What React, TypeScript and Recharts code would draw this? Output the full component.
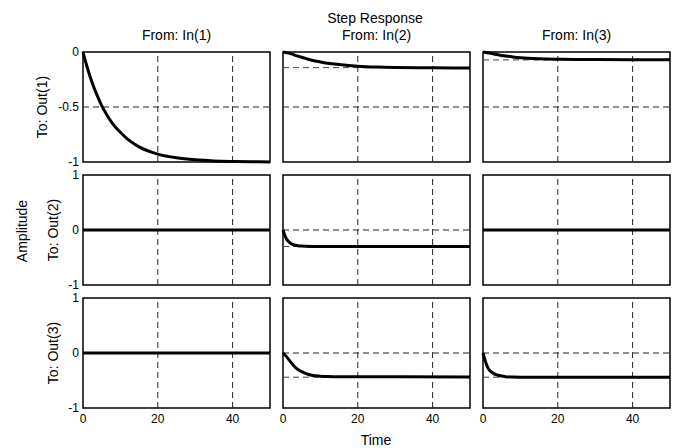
import { LineChart, Line, XAxis, YAxis, ReferenceLine, ReferenceArea } from 'recharts'

// time ticks / y ticks
const timeTicks = [0, 20, 40]
const topRowTicks = [-1, -0.5, 0]
const rowTicks = [-1, 0, 1]

const inputs = ['In(1)', 'In(2)', 'In(3)']
const outputs = ['Out(1)', 'Out(2)', 'Out(3)']

// step responses (row = output, col = input)
const t11 = [0, 1, 2, 3, 4, 5, 6, 8, 10, 12, 15, 20, 25, 30, 35, 40, 45, 50]
const y11 = [0, -0.125, -0.234, -0.33, -0.413, -0.487, -0.55, -0.656, -0.73, -0.795, -0.862, -0.928, -0.962, -0.98, -0.99, -0.995, -0.998, -0.999]

const t12 = [0, 2, 4, 6, 8, 10, 12, 15, 20, 25, 30, 40, 50]
const y12 = [0, -0.015, -0.038, -0.058, -0.077, -0.09, -0.102, -0.114, -0.129, -0.137, -0.141, -0.144, -0.145]

const t13 = [0, 2, 4, 6, 8, 10, 12, 15, 20, 25, 30, 50]
const y13 = [0, -0.012, -0.025, -0.036, -0.045, -0.052, -0.057, -0.062, -0.066, -0.068, -0.069, -0.07]

const t21 = [0, 50]
const y21 = [0, 0]

const t22 = [0, 0.5, 1, 1.5, 2, 3, 4, 5, 6, 8, 50]
const y22 = [0, -0.1, -0.17, -0.21, -0.24, -0.27, -0.285, -0.293, -0.297, -0.3, -0.3]

const t23 = [0, 50]
const y23 = [0, 0]

const t31 = [0, 50]
const y31 = [0, 0]

const t32 = [0, 1, 2, 3, 4, 5, 6, 8, 10, 12, 15, 50]
const y32 = [0, -0.07, -0.16, -0.24, -0.3, -0.34, -0.37, -0.41, -0.422, -0.428, -0.432, -0.435]

const t33 = [0, 0.5, 1, 1.5, 2, 3, 4, 5, 6, 8, 10, 50]
const y33 = [0, -0.12, -0.22, -0.29, -0.33, -0.38, -0.405, -0.42, -0.43, -0.437, -0.44, -0.44]

// steady-state levels (dashed lines); null = none drawn
const steady = [
  [null, -0.142, -0.072],
  [null, -0.3, null],
  [null, -0.44, -0.44],
]

const curves = [
  [[t11, y11], [t12, y12], [t13, y13]],
  [[t21, y21], [t22, y22], [t23, y23]],
  [[t31, y31], [t32, y32], [t33, y33]],
]

const COL_X = [83, 283, 483]
const ROW_Y = [52, 175, 298]
const PW = 187
const PH = 110
const FONT = '"Liberation Sans", Arial, sans-serif'

function Panel({ row, col }: { row: number; col: number }) {
  const [t, y] = curves[row][col]
  const data = t.map((v, i) => ({ t: v, y: y[i] }))
  const showY = col === 0
  const showX = row === 2
  const padL = showY ? 44 : 4
  const padB = showX ? 26 : 10
  const domain = row === 0 ? [-1, 0] : [-1, 1]
  const ticks = row === 0 ? topRowTicks : rowTicks
  const mid = row === 0 ? -0.5 : 0
  const ss = steady[row][col]
  const tick = { fontSize: 12, fill: '#000', fontFamily: FONT }

  return (
    <div style={{ position: 'absolute', left: COL_X[col] - padL, top: ROW_Y[row] - 8 }}>
      <LineChart
        width={padL + PW + 4}
        height={8 + PH + padB}
        data={data}
        margin={{ top: 8, right: 4, bottom: showX ? 0 : 10, left: showY ? 0 : 4 }}
      >
        <XAxis
          type="number"
          dataKey="t"
          domain={[0, 50]}
          ticks={timeTicks}
          interval={0}
          hide={!showX}
          height={26}
          axisLine={false}
          tickLine={false}
          tickSize={4}
          tickMargin={2}
          tick={tick}
        />
        <YAxis
          type="number"
          domain={domain}
          ticks={ticks}
          interval={0}
          hide={!showY}
          width={44}
          axisLine={false}
          tickLine={false}
          tickSize={2}
          tickMargin={2}
          tick={tick}
        />
        <ReferenceLine x={20} stroke="#222" strokeDasharray="6 4" />
        <ReferenceLine x={40} stroke="#222" strokeDasharray="6 4" />
        <ReferenceLine y={mid} stroke="#222" strokeDasharray="6 4" />
        {ss !== null && <ReferenceLine y={ss} stroke="#444" strokeDasharray="6 4" />}
        <ReferenceArea
          x1={0}
          x2={50}
          y1={domain[0]}
          y2={domain[1]}
          fill="none"
          stroke="#000"
          strokeWidth={1.5}
          ifOverflow="visible"
        />
        <Line
          type="monotone"
          dataKey="y"
          stroke="#000"
          strokeWidth={3}
          dot={false}
          isAnimationActive={false}
        />
      </LineChart>
    </div>
  )
}

export default function App() {
  return (
    <div
      style={{
        position: 'absolute',
        left: 0,
        top: 0,
        width: 674,
        height: 448,
        background: '#fff',
        fontFamily: FONT,
      }}
    >
      <svg width={674} height={448} style={{ position: 'absolute', left: 0, top: 0 }}>
        <g fontFamily={FONT} fontSize={14} fill="#000">
          <text x={375} y={23} textAnchor="middle">Step Response</text>
          {inputs.map((s, i) => (
            <text key={s} x={COL_X[i] + PW / 2} y={40} textAnchor="middle">From: {s}</text>
          ))}
          <text x={376} y={445} textAnchor="middle">Time</text>
          <text x={22} y={231} textAnchor="middle" dominantBaseline="central" transform="rotate(-90 22 231)">
            Amplitude
          </text>
          {outputs.map((s, i) => {
            const cx = i === 0 ? 42 : 53
            const cy = ROW_Y[i] + PH / 2
            return (
              <text
                key={s}
                x={cx}
                y={cy}
                textAnchor="middle"
                dominantBaseline="central"
                transform={`rotate(-90 ${cx} ${cy})`}
              >
                To: {s}
              </text>
            )
          })}
        </g>
      </svg>
      {[0, 1, 2].map((r) => [0, 1, 2].map((c) => <Panel key={`${r}-${c}`} row={r} col={c} />))}
    </div>
  )
}
